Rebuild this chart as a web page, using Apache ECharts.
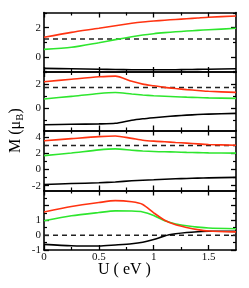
<!DOCTYPE html>
<html>
<head>
<meta charset="utf-8">
<script src="https://cdn.jsdelivr.net/npm/echarts@6/dist/echarts.min.js"></script>
<style>
html,body{margin:0;padding:0;background:#fff;}
#c{width:249px;height:288px;}
</style>
</head>
<body>
<div id="c"></div>
<script>
// U (eV) sample points
const U = [0, 0.25, 0.5, 0.65, 0.8, 0.9, 1.0, 1.1, 1.2, 1.3, 1.4, 1.5, 1.75];

// Panel 1
const p1Red   = [1.34, 1.68, 1.96, 2.14, 2.31, 2.40, 2.46, 2.52, 2.57, 2.62, 2.67, 2.72, 2.81];
const p1Green = [0.51, 0.65, 0.97, 1.18, 1.38, 1.50, 1.59, 1.66, 1.72, 1.77, 1.82, 1.86, 1.96];
const p1Black = [-0.80, -0.83, -0.86, -0.88, -0.89, -0.90, -0.90, -0.90, -0.89, -0.88, -0.87, -0.86, -0.83];
// Panel 2
const p2Red   = [2.22, 2.43, 2.63, 2.69, 2.25, 2.02, 1.88, 1.75, 1.65, 1.56, 1.49, 1.42, 1.33];
const p2Green = [0.78, 1.00, 1.24, 1.32, 1.19, 1.11, 1.05, 1.01, 0.97, 0.93, 0.90, 0.87, 0.83];
const p2Black = [-1.37, -1.33, -1.30, -1.25, -0.99, -0.87, -0.78, -0.70, -0.63, -0.57, -0.52, -0.48, -0.42];
// Panel 3
const p3Red   = [3.57, 3.83, 4.08, 4.16, 3.86, 3.64, 3.52, 3.44, 3.36, 3.28, 3.18, 3.10, 3.01];
const p3Green = [1.72, 2.05, 2.44, 2.56, 2.40, 2.30, 2.23, 2.20, 2.17, 2.13, 2.10, 2.07, 2.03];
const p3Black = [-1.85, -1.74, -1.64, -1.54, -1.40, -1.32, -1.26, -1.20, -1.15, -1.11, -1.07, -1.04, -0.97];
// Panel 4
const p4Red   = [1.55, 1.92, 2.19, 2.32, 2.24, 2.06, 1.50, 1.00, 0.69, 0.51, 0.37, 0.28, 0.22];
const p4Green = [0.97, 1.30, 1.52, 1.63, 1.62, 1.56, 1.32, 0.96, 0.75, 0.63, 0.54, 0.48, 0.43];
const p4Black = [-0.62, -0.71, -0.73, -0.66, -0.58, -0.48, -0.30, -0.05, 0.09, 0.18, 0.23, 0.26, 0.25];

// dashed reference levels per panel
const dashLevels = [1.22, 1.74, 2.98, 0];

// axis ranges and ticks
const yMin = [-1.05, -1.85, -2.6, -1];
const yMax = [3.05, 3.03, 4.84, 3];
const yLabels = [[0, 2], [0, 2], [-2, 0, 2, 4], [-1, 0, 1]];
const yMajor  = [[0, 2], [0, 2], [-2, 0, 2, 4], [-1, 0, 1, 2]];
const yMinor  = [[-1, 1, 3], [-1, 1, 3], [-1, 1, 3], [-0.5, 0.5, 1.5, 2.5]];
const xMin = 0, xMax = 1.75;
const xLabels = [0, 0.5, 1, 1.5];
const xMinor = [0.25, 0.75, 1.25];

const reds = [p1Red, p2Red, p3Red, p4Red];
const greens = [p1Green, p2Green, p3Green, p4Green];
const blacks = [p1Black, p2Black, p3Black, p4Black];

const RED = '#ff3311', GREEN = '#2ee62e', BLACK = '#000';
const FONT = 'Liberation Serif';

const tops = [12.5, 72, 130.5, 190.5];
const heights = [59.5, 58.5, 60, 59.5];

const grids = [], xAxes = [], yAxes = [], series = [];

for (let g = 0; g < 4; g++) {
  grids.push({left: 44, width: 192, top: tops[g], height: heights[g], outerBoundsMode: 'none', containLabel: false});
  const baseX = {gridIndex: g, type: 'value', min: xMin, max: xMax, splitLine: {show: false}};
  xAxes.push(Object.assign({}, baseX, {
    position: 'bottom',
    axisLine: {show: true, onZero: false, lineStyle: {color: BLACK, width: 1.6}},
    axisTick: {show: true, inside: true, length: 5, customValues: xLabels, lineStyle: {color: BLACK, width: 1.3}},
    axisLabel: {show: g === 3, customValues: xLabels, margin: 2, color: '#111', fontFamily: FONT, fontSize: 11}
  }));
  xAxes.push(Object.assign({}, baseX, {
    position: 'bottom',
    axisLine: {show: false, onZero: false},
    axisTick: {show: true, inside: true, length: 3, customValues: xMinor, lineStyle: {color: BLACK, width: 1.2}},
    axisLabel: {show: false}
  }));
  xAxes.push(Object.assign({}, baseX, {
    position: 'top',
    axisLine: {show: true, onZero: false, lineStyle: {color: BLACK, width: 1.6}},
    axisTick: {show: true, inside: true, length: 5, customValues: xLabels, lineStyle: {color: BLACK, width: 1.3}},
    axisLabel: {show: false}
  }));
  xAxes.push(Object.assign({}, baseX, {
    position: 'top',
    axisLine: {show: false, onZero: false},
    axisTick: {show: true, inside: true, length: 3, customValues: xMinor, lineStyle: {color: BLACK, width: 1.2}},
    axisLabel: {show: false}
  }));

  const baseY = {gridIndex: g, type: 'value', min: yMin[g], max: yMax[g], splitLine: {show: false}};
  yAxes.push(Object.assign({}, baseY, {
    position: 'left',
    axisLine: {show: true, onZero: false, lineStyle: {color: BLACK, width: 1.6}},
    axisTick: {show: true, inside: true, length: 5, customValues: yMajor[g], lineStyle: {color: BLACK, width: 1.3}},
    axisLabel: {show: true, customValues: yLabels[g], margin: 3, color: '#111', fontFamily: FONT, fontSize: 11}
  }));
  yAxes.push(Object.assign({}, baseY, {
    position: 'left',
    axisLine: {show: false, onZero: false},
    axisTick: {show: true, inside: true, length: 3, customValues: yMinor[g], lineStyle: {color: BLACK, width: 1.2}},
    axisLabel: {show: false}
  }));
  yAxes.push(Object.assign({}, baseY, {
    position: 'right',
    axisLine: {show: true, onZero: false, lineStyle: {color: BLACK, width: 1.6}},
    axisTick: {show: true, inside: true, length: 5, customValues: yMajor[g], lineStyle: {color: BLACK, width: 1.3}},
    axisLabel: {show: false}
  }));
  yAxes.push(Object.assign({}, baseY, {
    position: 'right',
    axisLine: {show: false, onZero: false},
    axisTick: {show: true, inside: true, length: 3, customValues: yMinor[g], lineStyle: {color: BLACK, width: 1.2}},
    axisLabel: {show: false}
  }));

  const mk = (arr, color) => ({
    type: 'line', xAxisIndex: g * 4, yAxisIndex: g * 4,
    data: U.map((u, i) => [u, arr[i]]),
    showSymbol: false, symbol: 'none', smooth: 0.25,
    lineStyle: {color: color, width: 1.6}, silent: true, animation: false
  });
  series.push({
    type: 'line', xAxisIndex: g * 4, yAxisIndex: g * 4,
    data: [[xMin, dashLevels[g]], [xMax, dashLevels[g]]],
    symbol: 'none', lineStyle: {color: '#222', width: 1.5, type: [5, 4]}, silent: true, animation: false
  });
  series.push(mk(blacks[g], BLACK));
  series.push(mk(greens[g], GREEN));
  series.push(mk(reds[g], RED));
}

const chart = echarts.init(document.getElementById('c'), null, {renderer: 'canvas'});
chart.setOption({
  animation: false,
  backgroundColor: '#fff',
  grid: grids,
  xAxis: xAxes,
  yAxis: yAxes,
  series: series,
  graphic: [
    {
      type: 'text', left: 'center', top: 262,
      style: {text: 'U ( eV )', font: '16px "Liberation Serif"', fill: BLACK}
    },
    {
      type: 'group', x: 16, y: 128, rotation: Math.PI / 2,
      children: [
        {type: 'text', x: -25, y: 0, style: {text: 'M (\u03bc', font: '16px "Liberation Serif"', fill: BLACK, textAlign: 'left', textVerticalAlign: 'middle'}},
        {type: 'text', x: 7.6, y: 4, style: {text: 'B', font: '10px "Liberation Serif"', fill: BLACK, textAlign: 'left', textVerticalAlign: 'middle'}},
        {type: 'text', x: 14.5, y: 0, style: {text: ')', font: '16px "Liberation Serif"', fill: BLACK, textAlign: 'left', textVerticalAlign: 'middle'}}
      ]
    }
  ]
});
</script>
</body>
</html>
